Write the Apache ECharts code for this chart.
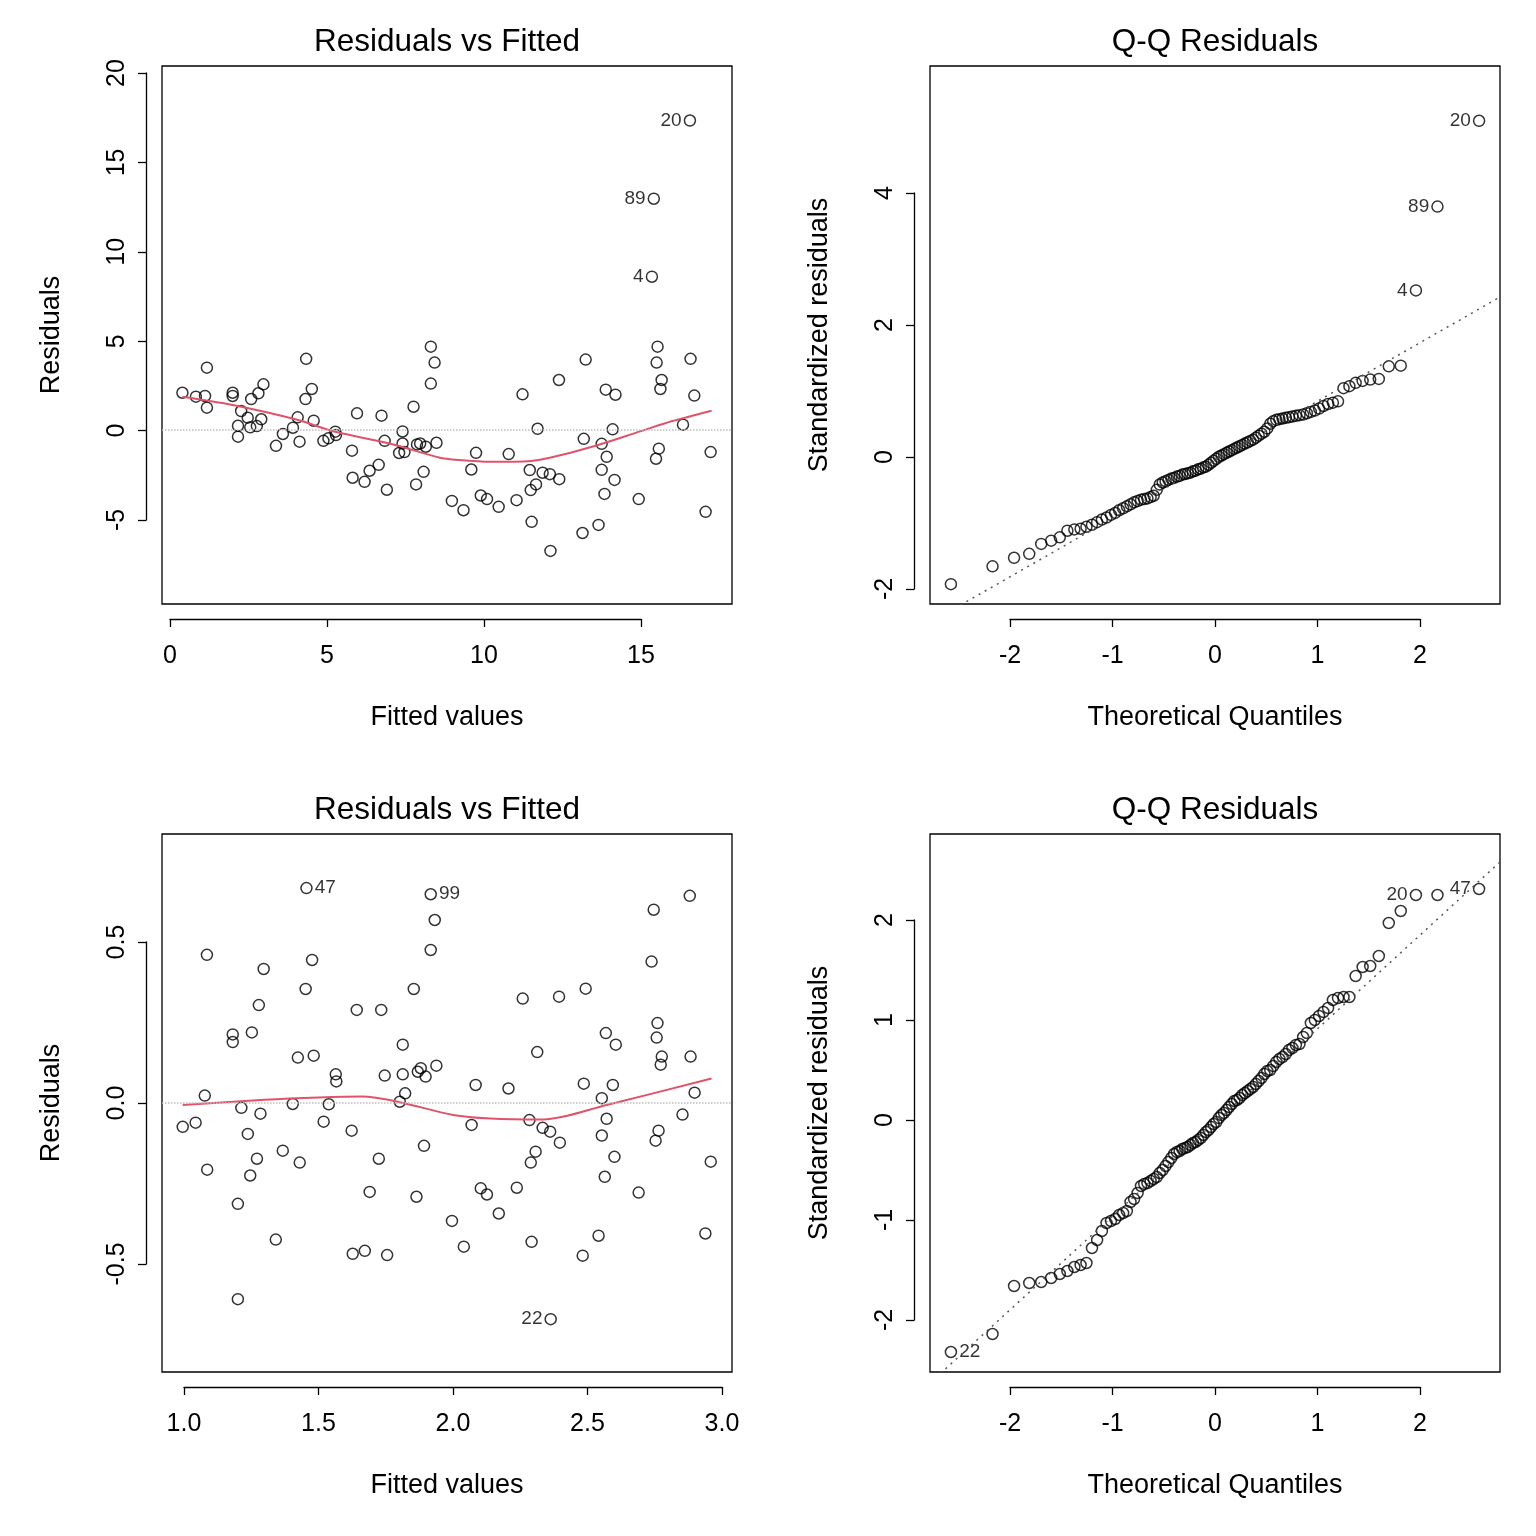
<!DOCTYPE html>
<html><head><meta charset="utf-8">
<script src="https://cdn.jsdelivr.net/npm/echarts@6/dist/echarts.min.js"></script>
<style>html,body{margin:0;padding:0;background:#fff}#c{width:1536px;height:1536px}</style>
</head><body><div id="c"></div>
<script>
// Panel 1: Residuals vs Fitted (top)
const fit1 = [0.40,0.83,1.12,1.18,1.18,2.0,2.0,2.27,2.17,2.17,2.48,2.59,2.82,2.98,2.56,2.77,2.91,3.38,3.6,3.92,4.07,4.13,4.34,4.32,4.52,4.58,4.89,5.05,5.27,5.29,5.8,5.96,5.82,6.2,6.36,6.65,6.74,6.84,6.91,7.41,7.41,7.3,7.47,7.76,7.87,7.97,8.15,8.49,8.08,7.84,8.31,8.43,8.31,8.98,9.75,9.6,9.35,9.9,10.1,10.47,10.79,11.04,11.23,11.46,11.49,11.66,11.52,11.71,11.87,12.1,12.4,12.39,12.12,13.24,13.18,13.14,13.65,13.75,13.75,13.84,13.91,14.16,13.88,14.19,14.1,14.93,15.53,15.5,15.66,15.62,15.57,15.48,16.58,16.7,16.34,17.22,17.06];
const res1 = [2.08,1.86,1.9,3.48,1.25,2.08,1.9,1.06,0.24,-0.37,0.69,1.73,2.05,2.55,0.15,0.22,0.6,-0.88,-0.22,0.13,0.71,-0.65,3.97,1.73,2.29,0.52,-0.6,-0.46,-0.09,-0.28,-1.15,0.93,-2.66,-2.89,-2.27,-1.94,0.8,-0.6,-3.33,-0.08,-0.75,-1.28,-1.23,1.3,-0.8,-0.75,-0.93,-0.71,-2.33,-3.03,4.65,3.76,2.59,-3.95,-1.27,-2.2,-4.47,-3.65,-3.85,-4.28,-1.34,-3.91,1.99,-2.23,-3.35,-3.03,-5.12,0.07,-2.38,-2.46,-2.74,2.79,-6.74,3.93,-0.49,-5.74,-5.29,-0.77,-2.22,-3.56,-1.49,-2.78,2.25,1.97,0.04,-3.85,4.65,3.76,2.79,2.29,-1.04,-1.6,3.97,1.92,0.3,-1.23,-4.56];
const lab1Fit = [16.56,15.41,15.35];
const lab1Res = [17.26,12.9,8.55];
const lab1Names = ['20','89','4'];
const smooth1 = [[0.4,1.86],[2,1.4],[4,0.6],[5.27,-0.1],[7,-0.75],[8.6,-1.55],[9.0,-1.64],[10.2,-1.77],[11.5,-1.72],[12.1,-1.55],[13.5,-0.9],[15,-0.06],[16,0.5],[17.25,1.08]];

// Panel 2: Q-Q (top)
const theo = [-2.576,-2.170,-1.960,-1.812,-1.695,-1.598,-1.514,-1.440,-1.372,-1.311,-1.254,-1.200,-1.150,-1.103,-1.058,-1.015,-0.974,-0.935,-0.896,-0.860,-0.824,-0.789,-0.755,-0.722,-0.690,-0.659,-0.628,-0.598,-0.568,-0.539,-0.510,-0.482,-0.454,-0.426,-0.399,-0.372,-0.345,-0.319,-0.292,-0.266,-0.240,-0.215,-0.189,-0.164,-0.138,-0.113,-0.088,-0.063,-0.038,-0.013,0.013,0.038,0.063,0.088,0.113,0.138,0.164,0.189,0.215,0.240,0.266,0.292,0.319,0.345,0.372,0.399,0.426,0.454,0.482,0.510,0.539,0.568,0.598,0.628,0.659,0.690,0.722,0.755,0.789,0.824,0.860,0.896,0.935,0.974,1.015,1.058,1.103,1.150,1.200,1.254,1.311,1.372,1.440,1.514,1.598,1.695,1.812,1.960,2.170,2.576];
const std1 = [-1.93,-1.66,-1.53,-1.47,-1.32,-1.27,-1.22,-1.12,-1.10,-1.09,-1.06,-1.03,-0.99,-0.95,-0.92,-0.88,-0.85,-0.81,-0.78,-0.75,-0.72,-0.69,-0.67,-0.65,-0.64,-0.63,-0.61,-0.59,-0.50,-0.42,-0.39,-0.37,-0.35,-0.33,-0.32,-0.30,-0.29,-0.27,-0.26,-0.25,-0.24,-0.22,-0.21,-0.19,-0.18,-0.16,-0.15,-0.12,-0.09,-0.06,-0.03,0.0,0.02,0.04,0.06,0.08,0.10,0.12,0.14,0.16,0.18,0.20,0.22,0.24,0.26,0.29,0.32,0.35,0.38,0.43,0.50,0.54,0.56,0.57,0.58,0.59,0.60,0.61,0.62,0.63,0.64,0.66,0.68,0.70,0.73,0.77,0.80,0.82,0.84,1.04,1.07,1.12,1.15,1.17,1.18,1.37,1.38,2.52,3.79,5.09];
const qq1Labels = {97:'4',98:'89',99:'20'};
const qqLine1 = [[-2.78,-2.51],[2.78,2.42]];

// Panel 3: Residuals vs Fitted (bottom)
const fit2 = [1.455,1.917,1.932,1.917,1.085,1.296,1.476,1.452,1.278,1.854,1.642,1.733,1.181,1.181,1.252,1.813,1.423,1.482,1.564,1.566,1.746,1.813,1.869,1.88,1.898,1.938,1.077,1.822,1.802,1.213,1.404,1.538,1.284,0.995,1.043,1.519,1.237,1.623,1.892,1.367,1.271,1.43,1.724,1.086,1.246,1.69,1.864,1.2,1.341,1.627,1.672,1.755,1.2,1.996,2.084,2.069,2.206,2.259,2.313,2.394,2.493,2.04,2.103,2.126,2.17,2.237,2.284,2.307,2.289,2.333,2.361,2.397,2.292,2.363,2.486,2.553,2.594,2.568,2.605,2.571,2.553,2.6,2.564,2.69,2.541,2.482,2.88,2.746,2.738,2.76,2.757,2.776,2.772,2.883,2.898,2.853,2.764,2.753,2.958,2.938];
const res2 = [0.667,0.648,0.568,0.475,0.46,0.416,0.444,0.354,0.304,0.354,0.289,0.289,0.213,0.189,0.219,0.181,0.141,0.147,0.089,0.067,0.085,0.089,0.097,0.108,0.082,0.116,0.023,0.03,0.004,-0.015,-0.003,-0.004,-0.033,-0.074,-0.061,-0.058,-0.096,-0.086,-0.133,-0.148,-0.173,-0.185,-0.173,-0.207,-0.225,-0.276,-0.291,-0.313,-0.424,-0.468,-0.459,-0.472,-0.609,-0.366,0.056,-0.068,0.045,0.324,0.158,0.33,0.355,-0.446,-0.265,-0.284,-0.343,-0.263,-0.053,-0.151,-0.185,-0.077,-0.089,-0.123,-0.431,-0.671,0.06,0.015,0.056,0.217,0.181,-0.049,-0.101,-0.167,-0.229,-0.278,-0.412,-0.474,0.643,0.6,0.439,0.248,0.203,0.144,0.119,0.144,0.032,-0.036,-0.086,-0.117,-0.182,-0.405];
const lab2Idx = {0:{t:'47',p:'right'},1:{t:'99',p:'right'},73:{t:'22',p:'left'}};
const smooth2 = [[0.995,-0.006],[1.3,0.01],[1.5,0.017],[1.662,0.02],[1.81,0.001],[2.0,-0.037],[2.138,-0.048],[2.335,-0.051],[2.571,-0.006],[2.961,0.076]];

// Panel 4: Q-Q (bottom)
const std2 = [-2.32,-2.14,-1.66,-1.63,-1.62,-1.58,-1.54,-1.51,-1.47,-1.45,-1.43,-1.28,-1.20,-1.11,-1.03,-1.01,-0.99,-0.95,-0.93,-0.91,-0.82,-0.79,-0.73,-0.66,-0.64,-0.63,-0.61,-0.59,-0.57,-0.53,-0.50,-0.46,-0.42,-0.38,-0.34,-0.32,-0.31,-0.29,-0.28,-0.27,-0.25,-0.23,-0.22,-0.20,-0.18,-0.15,-0.12,-0.10,-0.07,-0.04,-0.02,0.02,0.05,0.07,0.10,0.13,0.16,0.19,0.20,0.22,0.25,0.27,0.29,0.31,0.33,0.36,0.39,0.42,0.46,0.49,0.50,0.54,0.58,0.61,0.63,0.66,0.70,0.72,0.75,0.76,0.83,0.87,0.97,1.00,1.04,1.08,1.12,1.20,1.22,1.23,1.23,1.44,1.53,1.54,1.64,1.97,2.09,2.25,2.25,2.31];
const qq2Labels = {0:{t:'22',p:'right'},97:{t:'20',p:'left'},99:{t:'47',p:'left'}};
const qqLine2 = [[-2.78,-2.63],[2.78,2.58]];

const FONT = '"Liberation Sans", Arial, sans-serif';
const chart = echarts.init(document.getElementById('c'));
const grids = [], xAxes = [], yAxes = [], series = [], graphic = [];

function addGrid(g){ grids.push(g); return grids.length-1; }
function hiddenAxis(gi, min, max, isX){
  const a = {gridIndex:gi, type:'value', min, max, show:false, splitLine:{show:false}};
  if(isX){ xAxes.push(a); return xAxes.length-1; } yAxes.push(a); return yAxes.length-1;
}
function tickAxisX(left, width, top, min, max, interval, fmt){
  const gi = addGrid({left, width, top, height:1, show:false});
  xAxes.push({gridIndex:gi, type:'value', min, max, interval, position:'bottom',
    axisLine:{show:true, lineStyle:{color:'#000', width:1.3}},
    axisTick:{show:true, length:8, lineStyle:{color:'#000', width:1.3}},
    axisLabel:{show:true, color:'#000', fontSize:25, fontFamily:FONT, margin:25, formatter:fmt},
    splitLine:{show:false}});
  yAxes.push({gridIndex:gi, type:'value', show:false});
}
function tickAxisY(left, top, height, min, max, interval, fmt){
  const gi = addGrid({left, top, height, width:1, show:false});
  yAxes.push({gridIndex:gi, type:'value', min, max, interval, position:'left',
    axisLine:{show:true, lineStyle:{color:'#000', width:1.3}},
    axisTick:{show:true, length:8, lineStyle:{color:'#000', width:1.3}},
    axisLabel:{show:true, color:'#000', fontSize:25, fontFamily:FONT, margin:16, rotate:90, formatter:fmt, verticalAlign:'bottom', align:'center'},
    splitLine:{show:false}});
  xAxes.push({gridIndex:gi, type:'value', show:false});
}
function panel(left, top, xr, yr){
  const gi = addGrid({left, top, width:570, height:538, show:true, borderColor:'#000', borderWidth:1.3, backgroundColor:'transparent'});
  const xi = hiddenAxis(gi, xr[0], xr[1], true);
  const yi = hiddenAxis(gi, yr[0], yr[1], false);
  return {xi, yi};
}
const pt = {symbol:'circle', symbolSize:11, itemStyle:{color:'rgba(0,0,0,0)', borderColor:'#000', borderWidth:1.5}};
const LBL = {fontSize:19, fontFamily:FONT, color:'#000', distance:2};
function txt(x, y, s, size, rot){
  graphic.push({type:'text', x, y, rotation: rot||0,
    style:{text:s, font: size+'px '+FONT, fill:'#000', textAlign:'center', textVerticalAlign:'middle'}});
}
const fmt1 = v => String(v);
const fmtF = v => v.toFixed(1);

// Panel 1
let p = panel(162, 66, [-0.25, 17.9], [-9.7, 20.3]);
series.push(Object.assign({type:'scatter', xAxisIndex:p.xi, yAxisIndex:p.yi, data: fit1.map((x,i)=>[x,res1[i]]),
  markLine:{silent:true, symbol:'none', label:{show:false}, lineStyle:{color:'#BEBEBE', type:'dotted', width:1.5}, data:[{yAxis:0}]}}, pt));
series.push(Object.assign({type:'scatter', xAxisIndex:p.xi, yAxisIndex:p.yi,
  data: lab1Fit.map((x,i)=>({value:[x,lab1Res[i]], label:Object.assign({show:true, formatter:lab1Names[i], position:'left'}, LBL)}))}, pt));
series.push({type:'line', xAxisIndex:p.xi, yAxisIndex:p.yi, data:smooth1, smooth:0.3, showSymbol:false, lineStyle:{color:'#DF536B', width:2}});
tickAxisX(170, 471, 618, 0, 15, 5, fmt1);
tickAxisY(146, 73, 447, -5, 20, 5, fmt1);

// Panel 2
p = panel(930, 66, [-2.78, 2.78], [-2.23, 5.92]);
series.push(Object.assign({type:'scatter', xAxisIndex:p.xi, yAxisIndex:p.yi,
  data: theo.map((x,i)=> qq1Labels[i] ? {value:[x,std1[i]], label:Object.assign({show:true, formatter:qq1Labels[i], position:'left'}, LBL)} : [x,std1[i]])}, pt));
series.push({type:'line', xAxisIndex:p.xi, yAxisIndex:p.yi, data:qqLine1, showSymbol:false, clip:true, lineStyle:{color:'#555', type:[2,5], width:1.5}});
tickAxisX(1010, 410, 618, -2, 2, 1, fmt1);
tickAxisY(914, 193, 396, -2, 4, 2, fmt1);

// Panel 3
p = panel(162, 834, [0.918, 3.037], [-0.835, 0.835]);
series.push(Object.assign({type:'scatter', xAxisIndex:p.xi, yAxisIndex:p.yi,
  data: fit2.map((x,i)=> lab2Idx[i] ? {value:[x,res2[i]], label:Object.assign({show:true, formatter:lab2Idx[i].t, position:lab2Idx[i].p}, LBL)} : [x,res2[i]]),
  markLine:{silent:true, symbol:'none', label:{show:false}, lineStyle:{color:'#BEBEBE', type:'dotted', width:1.5}, data:[{yAxis:0}]}}, pt));
series.push({type:'line', xAxisIndex:p.xi, yAxisIndex:p.yi, data:smooth2, smooth:0.3, showSymbol:false, lineStyle:{color:'#DF536B', width:2}});
tickAxisX(184, 538, 1386, 1, 3, 0.5, fmtF);
tickAxisY(146, 942, 322, -0.5, 0.5, 0.5, fmtF);

// Panel 4
p = panel(930, 834, [-2.78, 2.78], [-2.52, 2.86]);
series.push(Object.assign({type:'scatter', xAxisIndex:p.xi, yAxisIndex:p.yi,
  data: theo.map((x,i)=> qq2Labels[i] ? {value:[x,std2[i]], label:Object.assign({show:true, formatter:qq2Labels[i].t, position:qq2Labels[i].p}, LBL)} : [x,std2[i]])}, pt));
series.push({type:'line', xAxisIndex:p.xi, yAxisIndex:p.yi, data:qqLine2, showSymbol:false, clip:true, lineStyle:{color:'#555', type:[2,5], width:1.5}});
tickAxisX(1010, 410, 1386, -2, 2, 1, fmt1);
tickAxisY(914, 920, 400, -2, 2, 1, fmt1);

// Texts
txt(447, 42, 'Residuals vs Fitted', 31.5);
txt(1215, 42, 'Q-Q Residuals', 31.5);
txt(447, 810, 'Residuals vs Fitted', 31.5);
txt(1215, 810, 'Q-Q Residuals', 31.5);
txt(447, 718, 'Fitted values', 27);
txt(1215, 718, 'Theoretical Quantiles', 27);
txt(447, 1486, 'Fitted values', 27);
txt(1215, 1486, 'Theoretical Quantiles', 27);
txt(52, 335, 'Residuals', 27, Math.PI/2);
txt(820, 335, 'Standardized residuals', 27, Math.PI/2);
txt(52, 1103, 'Residuals', 27, Math.PI/2);
txt(820, 1103, 'Standardized residuals', 27, Math.PI/2);

chart.setOption({animation:false, backgroundColor:'#fff', grid:grids, xAxis:xAxes, yAxis:yAxes, series, graphic});
</script></body></html>
